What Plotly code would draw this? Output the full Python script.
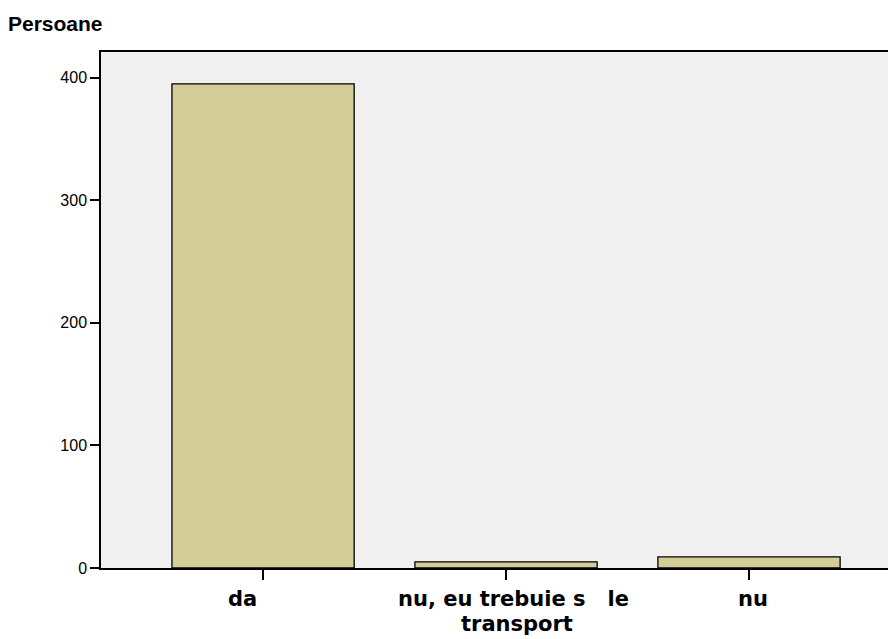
import plotly.graph_objects as go

categories = ["da", "nu, eu trebuie s   le<br>transport", "nu"]
values = [395, 5, 9]
y_ticks = [0, 100, 200, 300, 400]
title_text = "Persoane"

# label placement tweaks (pixels) per category line, as in the reference
label_xshift = [[-21], [7, 11], [4]]

W, H = 888, 631
ML, MR, MT, MB = 93, 0, 44, 71
PW, PH = W - ML - MR, H - MT - MB

fig = go.Figure(go.Bar(
    x=list(range(len(categories))), y=values, width=0.75,
    marker=dict(color="#d3ce97", line=dict(color="black", width=1.3)),
    hoverinfo="skip",
))

annotations = [dict(text="<b>%s</b>" % title_text, xref="paper", yref="paper",
                    x=-ML / PW, y=1 + 28 / PH, xanchor="left", yanchor="middle",
                    xshift=-2, showarrow=False, font=dict(size=21))]
for i, cat in enumerate(categories):
    for j, line in enumerate(cat.split("<br>")):
        annotations.append(dict(
            text="<b>%s</b>" % line.replace(" ", "&nbsp;"), xref="x", yref="paper",
            x=i, y=0, xanchor="center", yanchor="middle",
            xshift=label_xshift[i][j], yshift=-31 - 25 * j,
            showarrow=False, font=dict(size=21, family="DejaVu Sans")))

fig.update_layout(
    width=W, height=H,
    margin=dict(l=ML, r=MR, t=MT, b=MB, pad=0),
    paper_bgcolor="white", plot_bgcolor="#f0f0f0",
    font=dict(family="Liberation Sans, Arial, sans-serif", color="black"),
    showlegend=False,
    annotations=annotations,
)

fig.update_xaxes(
    range=[-0.667, 2.605], tickmode="array", tickvals=list(range(len(categories))),
    showticklabels=False,
    ticks="outside", ticklen=10, tickcolor="black", tickwidth=1.5,
    showline=True, linecolor="black", linewidth=1.5, mirror=True,
    showgrid=False, zeroline=False,
)
fig.update_yaxes(
    range=[0, 421], tickmode="array", tickvals=y_ticks,
    ticks="outside", ticklen=9, tickcolor="black", tickwidth=1.5,
    showline=True, linecolor="black", linewidth=1.5,
    showgrid=False, zeroline=False, tickfont=dict(size=16),
)

fig.write_html("out.html")
